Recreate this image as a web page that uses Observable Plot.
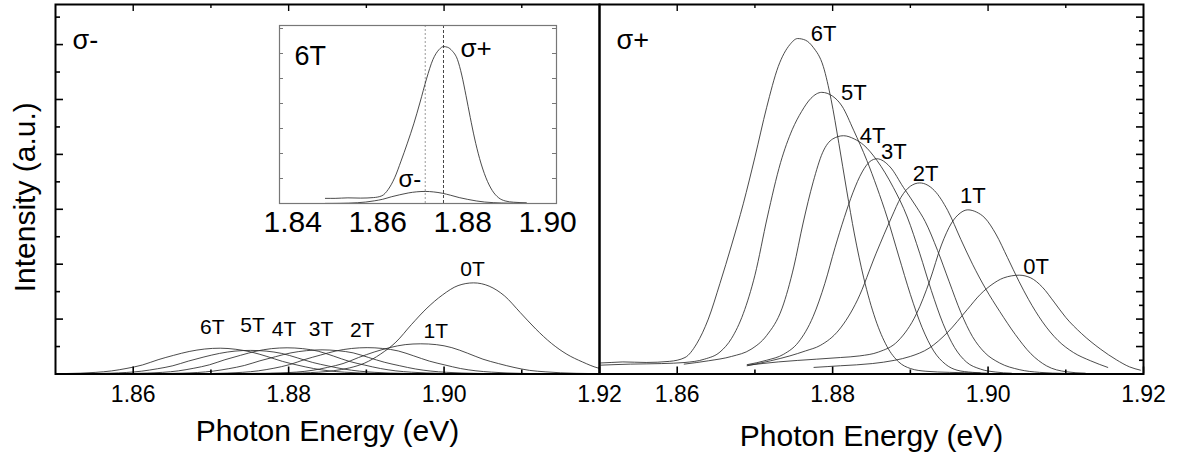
<!DOCTYPE html>
<html><head><meta charset="utf-8">
<script src="https://cdn.jsdelivr.net/npm/d3@7"></script>
<script src="https://cdn.jsdelivr.net/npm/@observablehq/plot@0.6"></script>
<style>
body{margin:0;background:#fff}
#wrap{position:relative;width:1179px;height:455px}
#wrap svg{position:absolute;left:0;top:0;overflow:visible}
</style></head><body><div id="wrap"></div>
<script>
// ---------- data (photon energy eV, intensity a.u.) ----------
const fields = ["0T","1T","2T","3T","4T","5T","6T"];
const xTickLabels = [1.86, 1.88, 1.90, 1.92];
const xMinorTicks = [1.87, 1.89, 1.91];
const insetTickLabels = [1.84, 1.86, 1.88, 1.90];

const minus0T = [[1.8778,0.01],[1.8818,0.02],[1.8858,0.06],[1.8878,0.11],[1.8898,0.20],[1.8918,0.36],[1.8938,0.58],[1.8958,0.90],[1.8978,1.20],[1.8998,1.44],[1.9018,1.61],[1.9038,1.66],[1.9058,1.60],[1.9078,1.42],[1.9098,1.12],[1.9118,0.82],[1.9138,0.56],[1.9158,0.36],[1.9178,0.22],[1.9198,0.11],[1.9218,0.07]];
const minus1T = [[1.8750,0.01],[1.8790,0.02],[1.8830,0.066],[1.8850,0.12],[1.8870,0.19],[1.8890,0.30],[1.8910,0.40],[1.8930,0.48],[1.8950,0.535],[1.8970,0.55],[1.8990,0.535],[1.9010,0.48],[1.9030,0.38],[1.9050,0.27],[1.9070,0.19],[1.9090,0.12],[1.9110,0.066],[1.9130,0.04],[1.9150,0.022],[1.9190,0.008]];
const minus2T = [[1.8681,0.005],[1.8721,0.017],[1.8761,0.058],[1.8781,0.105],[1.8801,0.17],[1.8821,0.265],[1.8841,0.345],[1.8861,0.42],[1.8881,0.465],[1.8901,0.48],[1.8921,0.465],[1.8941,0.42],[1.8961,0.33],[1.8981,0.235],[1.9001,0.165],[1.9021,0.10],[1.9041,0.058],[1.9061,0.034],[1.9081,0.019],[1.9121,0.007]];
const minus3T = [[1.8623,0.005],[1.8663,0.015],[1.8703,0.053],[1.8723,0.097],[1.8743,0.155],[1.8763,0.24],[1.8783,0.315],[1.8803,0.385],[1.8823,0.425],[1.8843,0.44],[1.8863,0.425],[1.8883,0.385],[1.8903,0.30],[1.8923,0.215],[1.8943,0.15],[1.8963,0.092],[1.8983,0.053],[1.9003,0.031],[1.9023,0.018],[1.9063,0.006]];
const minus4T = [[1.8578,0.005],[1.8618,0.017],[1.8658,0.057],[1.8678,0.105],[1.8698,0.167],[1.8718,0.26],[1.8738,0.34],[1.8758,0.415],[1.8778,0.462],[1.8798,0.477],[1.8818,0.462],[1.8838,0.415],[1.8858,0.325],[1.8878,0.23],[1.8898,0.162],[1.8918,0.10],[1.8938,0.057],[1.8958,0.033],[1.8978,0.019],[1.9018,0.007]];
const minus5T = [[1.8531,0.004],[1.8571,0.015],[1.8611,0.052],[1.8631,0.095],[1.8651,0.15],[1.8671,0.235],[1.8691,0.31],[1.8711,0.375],[1.8731,0.417],[1.8751,0.43],[1.8771,0.417],[1.8791,0.375],[1.8811,0.295],[1.8831,0.21],[1.8851,0.146],[1.8871,0.09],[1.8891,0.052],[1.8911,0.03],[1.8931,0.017],[1.8971,0.006]];
const minus6T = [[1.8477,0.004],[1.8512,0.008],[1.8552,0.03],[1.8572,0.056],[1.8592,0.103],[1.8612,0.165],[1.8632,0.26],[1.8652,0.34],[1.8672,0.41],[1.8692,0.455],[1.8712,0.47],[1.8732,0.45],[1.8752,0.40],[1.8772,0.32],[1.8792,0.23],[1.8812,0.16],[1.8832,0.10],[1.8852,0.057],[1.8872,0.033],[1.8892,0.019],[1.8932,0.007],[1.8972,0.002]];

const plus0T = [[1.8776,0.12],[1.8810,0.15],[1.8851,0.19],[1.8880,0.25],[1.8900,0.32],[1.8924,0.47],[1.8948,0.76],[1.8973,1.17],[1.8990,1.45],[1.9005,1.63],[1.9020,1.75],[1.9040,1.80],[1.9055,1.75],[1.9070,1.58],[1.9085,1.31],[1.9100,1.03],[1.9120,0.74],[1.9145,0.45],[1.9165,0.26],[1.9182,0.13],[1.9196,0.07]];
const plus1T = [[1.8691,0.16],[1.8730,0.22],[1.8779,0.27],[1.8810,0.30],[1.8835,0.33],[1.8859,0.40],[1.8884,0.60],[1.8908,1.10],[1.8925,1.70],[1.8940,2.35],[1.8953,2.75],[1.8964,2.93],[1.8974,2.99],[1.8985,2.95],[1.8996,2.84],[1.9010,2.55],[1.9025,2.12],[1.9040,1.68],[1.9052,1.36],[1.9070,0.95],[1.9090,0.61],[1.9110,0.39],[1.9132,0.24],[1.9154,0.12]];
const plus2T = [[1.8690,0.15],[1.8720,0.24],[1.8745,0.33],[1.8765,0.42],[1.8784,0.52],[1.8808,0.80],[1.8832,1.35],[1.8856,2.20],[1.8876,2.86],[1.8888,3.22],[1.8900,3.42],[1.8912,3.48],[1.8931,3.34],[1.8948,2.98],[1.8965,2.45],[1.8980,2.00],[1.8997,1.55],[1.9015,1.14],[1.9035,0.72],[1.9055,0.37],[1.9075,0.15],[1.9101,0.04],[1.9125,0.015]];
const plus3T = [[1.8690,0.17],[1.8715,0.25],[1.8737,0.36],[1.8756,0.58],[1.8775,1.05],[1.8790,1.65],[1.8803,2.30],[1.8815,2.85],[1.8826,3.30],[1.8838,3.68],[1.8848,3.87],[1.8857,3.92],[1.8874,3.77],[1.8891,3.40],[1.8908,3.04],[1.8919,2.78],[1.8935,2.25],[1.8950,1.68],[1.8965,1.12],[1.8980,0.68],[1.8995,0.40],[1.9015,0.20],[1.9040,0.08],[1.9066,0.03],[1.9100,0.01]];
const plus4T = [[1.8609,0.18],[1.8640,0.24],[1.8670,0.32],[1.8695,0.45],[1.8715,0.70],[1.8735,1.20],[1.8750,1.95],[1.8762,2.75],[1.8775,3.50],[1.8787,4.03],[1.8800,4.28],[1.8814,4.34],[1.8828,4.28],[1.8840,4.17],[1.8857,3.89],[1.8878,3.40],[1.8896,2.86],[1.8912,2.20],[1.8927,1.52],[1.8942,0.92],[1.8957,0.48],[1.8972,0.22],[1.8990,0.09],[1.9010,0.035],[1.9030,0.015]];
const plus5T = [[1.8500,0.16],[1.8540,0.18],[1.8580,0.19],[1.8610,0.21],[1.8635,0.27],[1.8655,0.40],[1.8670,0.65],[1.8685,1.10],[1.8700,1.80],[1.8716,2.86],[1.8733,3.85],[1.8748,4.45],[1.8760,4.78],[1.8772,5.02],[1.8786,5.13],[1.8800,5.06],[1.8812,4.88],[1.8827,4.44],[1.8844,3.89],[1.8857,3.40],[1.8870,2.86],[1.8885,2.15],[1.8900,1.45],[1.8915,0.85],[1.8930,0.42],[1.8945,0.18],[1.8960,0.07],[1.8980,0.03],[1.9000,0.015]];
const plus6T = [[1.8477,0.20],[1.8500,0.20],[1.8530,0.22],[1.8560,0.21],[1.8590,0.23],[1.8610,0.30],[1.8625,0.55],[1.8640,1.00],[1.8655,1.65],[1.8670,2.35],[1.8685,3.10],[1.8700,3.95],[1.8715,4.85],[1.8730,5.60],[1.8745,6.00],[1.8755,6.11],[1.8765,6.08],[1.8775,5.95],[1.8788,5.60],[1.8798,5.00],[1.8808,4.20],[1.8818,3.35],[1.8828,2.55],[1.8840,1.75],[1.8855,1.00],[1.8870,0.50],[1.8885,0.22],[1.8900,0.10],[1.8920,0.05],[1.8950,0.03],[1.8990,0.02]];

const insetRange = [1.8477, 1.8967];

// ---------- layout / style ----------
const W = 1179, H = 455;
const fontStack = '"Liberation Sans", Arial, Helvetica, sans-serif';
const frameTop = 4, frameBottom = 373.5, frameH = frameBottom - frameTop;
const yTop = 6.73;
const curveColor = "#2a2a2a";

const minusSeries = [minus0T, minus1T, minus2T, minus3T, minus4T, minus5T, minus6T];
const plusSeries  = [plus0T, plus1T, plus2T, plus3T, plus4T, plus5T, plus6T];
const toRows = (series) => fields.flatMap((f, i) => series[i].map(([E, I]) => ({field: f, E, I})));
const peakOf = (s) => s.reduce((a, b) => (b[1] > a[1] ? b : a));
const fmt = d3.format(".2f");

// label pixel offsets from each peak (0T..6T)
const minusLabelOff = [[-1,-14],[15,-13],[-5,-17],[-1,-21],[-3,-19],[2,-25],[-8,-21]];
const plusLabelOff  = [[17,-8],[5,-14],[6,-9],[17,-7],[29,0],[32,1],[26,-5]];

function panel({left, right, series, offs, labelSize, sign, titleBaseline, leftTicks, rightTicks, yTitle}) {
  const frameW = right - left;
  const yMajor = leftTicks ? d3.range(1, 7, 1) : d3.range(0.5, 6.6, 0.5);
  const yMinor = leftTicks ? d3.range(0.5, 6.6, 1) : d3.range(0.25, 6.6, 0.5);
  const marks = [
    Plot.line(toRows(series), {x: "E", y: "I", z: "field", curve: "monotone-x", stroke: curveColor, strokeWidth: 0.85, clip: true}),
    Plot.ruleX(xTickLabels, {insetTop: frameH - 7, stroke: "#000", strokeWidth: 1.6}),
    Plot.ruleX(xMinorTicks, {insetTop: frameH - 4, stroke: "#000", strokeWidth: 1.6}),
    Plot.ruleX(xTickLabels.slice(0, 3), {insetBottom: frameH - 7, stroke: "#000", strokeWidth: 1.4}),
    Plot.ruleX(xMinorTicks, {insetBottom: frameH - 4, stroke: "#000", strokeWidth: 1.4}),
    leftTicks ? Plot.ruleY(yMajor, {insetRight: frameW - 8, stroke: "#000", strokeWidth: 1.6}) : null,
    leftTicks ? Plot.ruleY(yMinor, {insetRight: frameW - 5, stroke: "#000", strokeWidth: 1.6}) : null,
    rightTicks ? Plot.ruleY(yMajor, {insetLeft: frameW - 7, stroke: "#000", strokeWidth: 1.6}) : null,
    rightTicks ? Plot.ruleY(yMinor, {insetLeft: frameW - 4, stroke: "#000", strokeWidth: 1.6}) : null,
    Plot.frame({stroke: "#000", strokeWidth: 2}),
    Plot.text(xTickLabels, {x: d => d, text: d => fmt(d), frameAnchor: "bottom", lineAnchor: "top", dy: 11.5, fontSize: 23, fill: "#000"}),
    Plot.text(["Photon Energy (eV)"], {frameAnchor: "bottom", textAnchor: "middle", lineAnchor: "bottom", dy: titleBaseline - frameBottom, fontSize: 30, fill: "#000"}),
    Plot.text([sign], {frameAnchor: "top-left", textAnchor: "start", lineAnchor: "bottom", dx: 17, dy: 44, fontSize: 27, fill: "#000"}),
    ...fields.map((f, i) => {
      const p = peakOf(series[i]);
      return Plot.text([f], {x: [p[0]], y: [p[1]], text: d => d, dx: offs[i][0], dy: offs[i][1], fontSize: labelSize, fill: "#000"});
    })
  ];
  if (yTitle) marks.push(Plot.text([yTitle], {frameAnchor: "left", textAnchor: "middle", rotate: -90, lineAnchor: "bottom", dx: -21, dy: 8, fontSize: 30, fill: "#000"}));
  return Plot.plot({
    width: W, height: H,
    marginLeft: left, marginRight: W - right, marginTop: frameTop, marginBottom: H - frameBottom,
    x: {domain: [1.85, 1.92], axis: null},
    y: {domain: [0, yTop], axis: null},
    style: {background: "transparent", fontFamily: fontStack, overflow: "visible"},
    marks: marks.filter(Boolean)
  });
}

const wrap = document.getElementById("wrap");
wrap.append(panel({left: 55, right: 599, series: minusSeries, offs: minusLabelOff, labelSize: 21, sign: "σ-", titleBaseline: 440, leftTicks: true, rightTicks: false, yTitle: "Intensity (a.u.)"}));
wrap.append(panel({left: 599, right: 1143, series: plusSeries, offs: plusLabelOff, labelSize: 22, sign: "σ+", titleBaseline: 445, leftTicks: false, rightTicks: true}));

// ---------- inset (6T, both polarizations) ----------
const inL = 279, inR = 556, inT = 25, inB = 203;
const inYMax = 6.93;
const inStep = inYMax * 25 / (inB - inT);
const inYTicks = d3.range(1, 8).map(k => k * inStep).filter(v => v < inYMax);
const clipInset = s => s.filter(([E]) => E >= insetRange[0] && E <= insetRange[1]).map(([E, I]) => ({E, I}));
const inPlus = clipInset(plus6T), inMinus = clipInset(minus6T);
const pkPlus = peakOf(plus6T), pkMinus = peakOf(minus6T);
const insetSvg = Plot.plot({
  width: W, height: H,
  marginLeft: inL, marginRight: W - inR, marginTop: inT, marginBottom: H - inB,
  x: {domain: [1.8369, 1.9021], axis: null},
  y: {domain: [0, inYMax], axis: null},
  style: {background: "transparent", fontFamily: fontStack, overflow: "visible"},
  marks: [
    Plot.ruleX([pkMinus[0]], {stroke: "#999", strokeWidth: 1, strokeDasharray: "2,2"}),
    Plot.ruleX([pkPlus[0]], {stroke: "#444", strokeWidth: 1, strokeDasharray: "3,2"}),
    Plot.line(inPlus, {x: "E", y: "I", curve: "monotone-x", stroke: curveColor, strokeWidth: 0.85}),
    Plot.line(inMinus, {x: "E", y: "I", curve: "monotone-x", stroke: curveColor, strokeWidth: 0.85}),
    Plot.ruleY(inYTicks, {insetRight: (inR - inL) - 4, stroke: "#777", strokeWidth: 1}),
    Plot.ruleY(inYTicks, {insetLeft: (inR - inL) - 4, stroke: "#777", strokeWidth: 1}),
    Plot.frame({stroke: "#777", strokeWidth: 1.2}),
    Plot.text(insetTickLabels, {x: d => d, text: d => fmt(d), frameAnchor: "bottom", lineAnchor: "top", dy: 7, fontSize: 30, fill: "#000"}),
    Plot.text(["6T"], {frameAnchor: "top-left", textAnchor: "start", lineAnchor: "bottom", dx: 15, dy: 39, fontSize: 27, fill: "#000"}),
    Plot.text(["σ+"], {x: [pkPlus[0]], y: [pkPlus[1]], text: d => d, textAnchor: "start", lineAnchor: "bottom", dx: 17, dy: 10, fontSize: 26, fill: "#000"}),
    Plot.text(["σ-"], {x: [pkMinus[0]], y: [pkMinus[1]], text: d => d, textAnchor: "end", lineAnchor: "bottom", dx: -4, dy: -4, fontSize: 24, fill: "#000"})
  ]
});
wrap.append(insetSvg);
</script></body></html>
